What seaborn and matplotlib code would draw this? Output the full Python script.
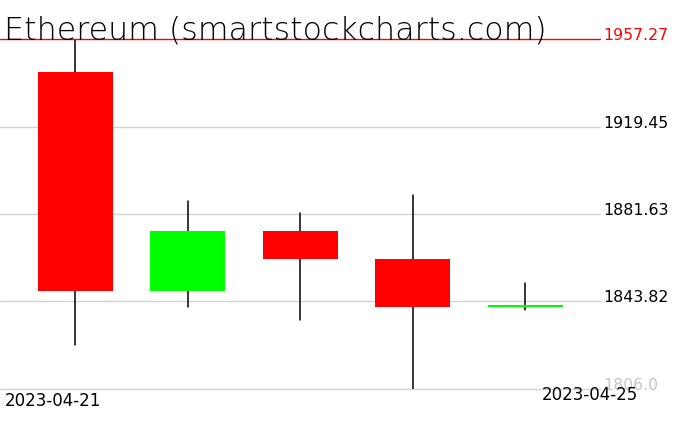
import matplotlib
matplotlib.use("Agg")
import matplotlib.pyplot as plt
import seaborn as sns
import pandas as pd
import numpy as np

dates = ["2023-04-21", "2023-04-22", "2023-04-23", "2023-04-24", "2023-04-25"]
opens = [1943.0, 1848.5, 1874.3, 1862.0, 1841.6]
highs = [1957.27, 1887.3, 1882.1, 1889.8, 1851.8]
lows = [1825.0, 1841.3, 1835.9, 1806.0, 1840.3]
closes = [1848.5, 1874.3, 1862.0, 1841.6, 1842.4]
tick_values = [1806.0, 1843.82, 1881.63, 1919.45, 1957.27]
tick_labels = ["1806.0", "1843.82", "1881.63", "1919.45", "1957.27"]
title = "Ethereum (smartstockcharts.com)"

sns.set_theme(style="white")
plt.rcParams['font.family'] = ['DejaVu Sans']
plt.rcParams['text.color'] = 'black'

W, H = 676, 431
fig = plt.figure(figsize=(W / 100, H / 100), dpi=100)
ax = fig.add_axes([0, 1 - 390 / H, 600 / W, 350 / H])
ax.set_xlim(-0.669, 4.662)
ax.set_ylim(tick_values[0], tick_values[-1])
ax.axis("off")

# gridlines
for v in tick_values[:-1]:
    ax.axhline(v, color="#d3d3d3", lw=1.0, zorder=0, clip_on=False)
ax.axhline(tick_values[-1], color="#ff0000", lw=1.0, zorder=3, clip_on=False)

# wicks with seaborn
x = np.arange(len(dates))
wick = pd.DataFrame({
    "x": np.repeat(x, 2),
    "price": np.ravel(np.column_stack([lows, highs])),
    "day": np.repeat(dates, 2),
})
sns.lineplot(data=wick, x="x", y="price", units="day", estimator=None,
             color="black", lw=1.1, ax=ax, legend=False, zorder=1)
ax.axis("off")

# bodies
df = pd.DataFrame({"x": x, "o": opens, "c": closes})
df["bottom"] = df[["o", "c"]].min(axis=1)
df["height"] = (df["c"] - df["o"]).abs()
df["color"] = np.where(df["c"] >= df["o"], "#00ff00", "#ff0000")
ax.bar(df["x"], df["height"], bottom=df["bottom"], width=0.667,
       color=df["color"], linewidth=0, zorder=2)

# y labels on right
for v, lab in zip(tick_values, tick_labels):
    col = "#ff0000" if v == tick_values[-1] else ("#c8c8c8" if v == tick_values[0] else "black")
    fig.text(603 / W, ax.transData.transform((0, v))[1] / H, lab, color=col,
             fontsize=11.3, va="baseline", ha="left")

# x labels
fig.text(5 / W, 1 - 406 / H, dates[0], fontsize=12, va="baseline", ha="left", color="black")
fig.text(542 / W, 1 - 400 / H, dates[-1], fontsize=12, va="baseline", ha="left", color="black")

# title
fig.text(4 / W, 1 - 40 / H, title, fontsize=22.8, fontweight="light",
         va="baseline", ha="left", color="black")

fig.savefig("out.png", dpi=100)
